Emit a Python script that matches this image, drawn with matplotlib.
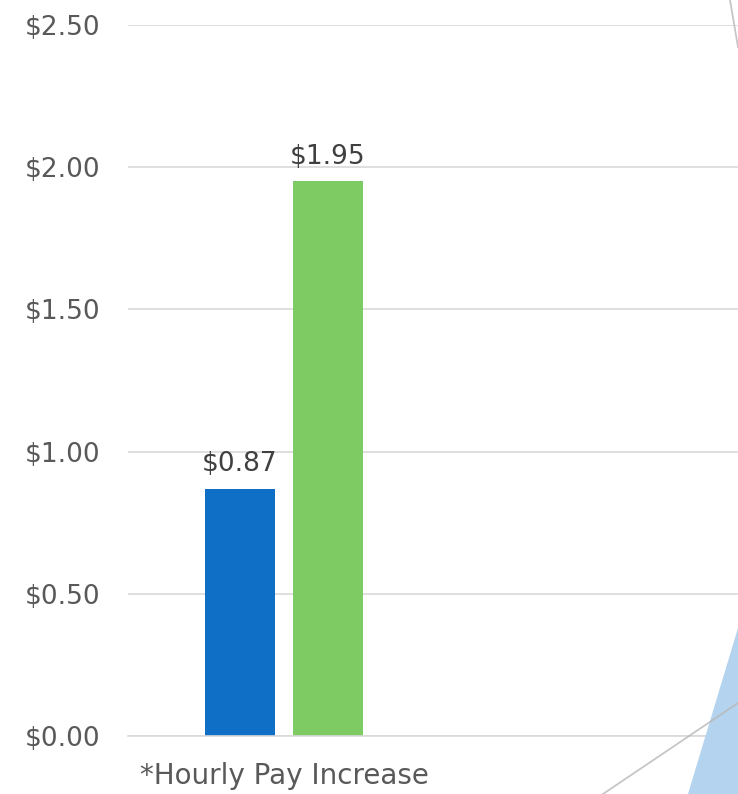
import matplotlib
matplotlib.use("Agg")
import matplotlib.pyplot as plt
from matplotlib.lines import Line2D
from matplotlib.patches import Polygon

# chart data
categories = ["*Hourly Pay Increase"]
series_a = [0.87]
series_b = [1.95]
y_ticks = [0.0, 0.5, 1.0, 1.5, 2.0, 2.5]

blue = "#0f6fc6"
green = "#7dcb62"
grid_grey = "#d9d9d9"

plt.rcParams["font.family"] = ["DejaVu Sans"]

fig = plt.figure(figsize=(7.38, 7.94), dpi=100)
ax = fig.add_axes([128 / 738, 1 - 736 / 794, 1 - 128 / 738, (736 - 25) / 794])

x = list(range(len(categories)))
w = 0.25
off = 0.157
bars_a = ax.bar([i - off for i in x], series_a, width=w, color=blue, zorder=3)
bars_b = ax.bar([i + off for i in x], series_b, width=w, color=green, zorder=3)

# value labels above bars
for bars in (bars_a, bars_b):
    for b in bars:
        ax.annotate(f"${b.get_height():.2f}", (b.get_x() + b.get_width() / 2, b.get_height()),
                    xytext=(0, 8), textcoords="offset points", ha="center", va="bottom",
                    fontsize=19, color="#404040")

ax.set_xlim(-0.557, 1.621)
ax.set_ylim(0, 2.5)
ax.set_yticks(y_ticks)
ax.set_yticklabels([f"${v:.2f}" for v in y_ticks])
ax.set_xticks(x)
ax.set_xticklabels(categories)
ax.tick_params(axis="y", length=0, pad=20, labelsize=19, labelcolor="#595959")
ax.tick_params(axis="x", length=0, pad=19, labelsize=20, labelcolor="#595959")

ax.yaxis.grid(True, color=grid_grey, linewidth=1.2, zorder=0)
for s in ["top", "right", "left"]:
    ax.spines[s].set_visible(False)
ax.spines["bottom"].set_color(grid_grey)
ax.spines["bottom"].set_linewidth(1.2)
ax.spines["bottom"].set_zorder(4)

# decorative shapes from the slide background (figure pixel coords)
def fp(px, py):
    return (px / 738, 1 - py / 794)

fig.add_artist(Polygon([fp(738, 628), fp(688, 794), fp(738, 794)], closed=True,
                       transform=fig.transFigure, facecolor="#b4d3ee", edgecolor="none", zorder=5))
for p0, p1 in [((730, 0), (738, 47)), ((603, 794), (738, 703))]:
    a, b = fp(*p0), fp(*p1)
    fig.add_artist(Line2D([a[0], b[0]], [a[1], b[1]], transform=fig.transFigure,
                          color="#b8b8b8", linewidth=1.3, alpha=0.8, zorder=6))

fig.savefig("out.png", dpi=100)
